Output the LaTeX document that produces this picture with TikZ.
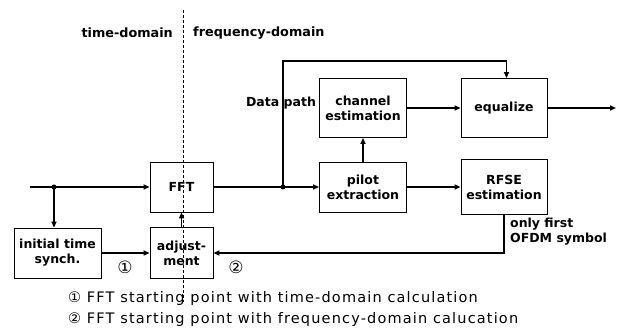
\documentclass[tikz,border=0pt]{standalone}
\usepackage{fontspec}
\setmainfont{DejaVu Sans}
\newfontfamily\notefont[LetterSpace=8]{DejaVu Sans}
\usetikzlibrary{positioning,arrows.meta}

\begin{document}
\begin{tikzpicture}[x=1pt, y=-1pt, node distance=66pt,
  block/.style={draw, line width=0.8pt, minimum width=87pt, minimum height=50pt, inner sep=1pt, align=center, font=\fontsize{12.5}{15}\selectfont\bfseries},
  link/.style={line width=1.8pt, -{Triangle[length=6pt,width=5pt]}},
  head/.style={font=\fontsize{12.8}{15}\selectfont\bfseries, inner sep=0pt},
  tag/.style={font=\fontsize{12.5}{15}\selectfont\bfseries, inner sep=0pt},
  num/.style={font=\fontsize{17}{18}\selectfont, inner sep=0pt},
  note/.style={font=\notefont\fontsize{14.5}{16}\selectfont, inner sep=0pt}]
\useasboundingbox (0,0) rectangle (624,336);
\node[block, minimum width=63pt] (fft) at (181.5,187) {FFT};
\node[block, minimum width=63pt, minimum height=51pt, below of=fft] (adj) {adjust-\\ment};
\node[block, left of=adj, xshift=-58pt] (sync) {initial time\\synch.};
\node[block] (pilot) at (363,187) {pilot\\extraction};
\node[block, minimum height=59pt, above of=pilot, yshift=13pt] (chan) {channel\\estimation};
\node[block, minimum width=86pt, minimum height=59pt, right of=chan, xshift=75pt] (eq) {equalize};
\node[block, minimum width=86pt, minimum height=55pt, right of=pilot, xshift=75pt] (rfse) {RFSE\\estimation};
\coordinate (in) at (30,187);
\coordinate (split) at (54,187);
\coordinate (tap) at (283,187);
\coordinate (top) at (283,61);
\coordinate (out) at (616,108);
\coordinate (dtop) at (183,10);
\coordinate (dbot) at (183,302);
\draw[link] (in) -- (fft);
\draw[link] (split) -- (split |- sync.north);
\draw[link] (fft) -- (pilot);
\draw[link] (tap) -- (top) -| ([xshift=2.5pt]eq.north);
\draw[link] (pilot) -- (chan);
\draw[link] (chan) -- (eq);
\draw[link] (eq) -- (out);
\draw[link] (pilot) -- (rfse);
\draw[link] (rfse.south) |- (adj.east);
\draw[link] (sync) -- (adj);
\draw[link] (adj) -- (fft);
\fill (split) circle (2.5pt);
\fill (tap) circle (2.5pt);
\draw[line width=0.6pt, dash pattern=on 3pt off 2pt] (dtop) -- (dbot);
\node[head, anchor=east] (tdom) at (173,33) {time-domain};
\node[head, anchor=west] (fdom) at (193,33) {frequency-domain};
\node[tag] (dpath) at (281,103) {Data path};
\node[tag, anchor=west, align=left] (first) at (510,232) {only first\\OFDM symbol};
\node[num] (c1) at (125,267) {①};
\node[num] (c2) at (236,267) {②};
\node[note, anchor=west] (n1) at (68,299) {① FFT starting point with time-domain calculation};
\node[note, anchor=west] (n2) at (68,320) {② FFT starting point with frequency-domain calucation};
\end{tikzpicture}
\end{document}
